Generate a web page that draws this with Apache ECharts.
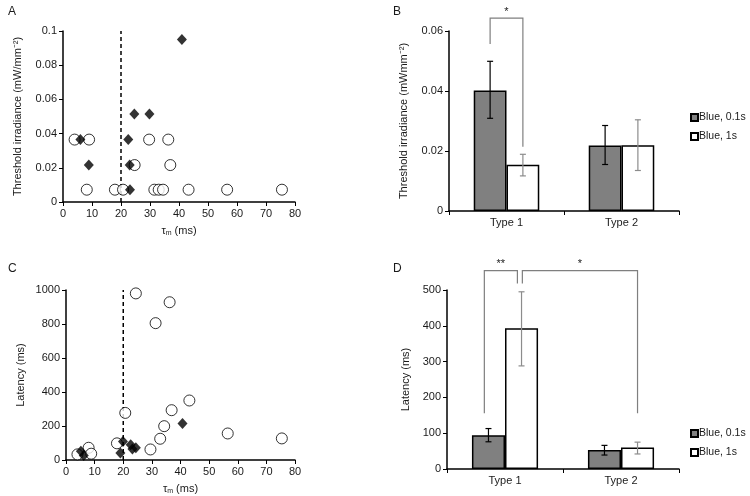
<!DOCTYPE html>
<html><head><meta charset="utf-8">
<script src="https://cdn.jsdelivr.net/npm/echarts@6/dist/echarts.min.js"></script>
<style>html,body{margin:0;padding:0;background:#fff}#c{width:750px;height:496px}</style>
</head><body><div id="c"></div>
<script>
// ---- Panel A: threshold irradiance vs tau_m ----
const aOpen = [[4.0,0.0365],[9.0,0.0365],[29.7,0.0365],[36.3,0.0365],
  [24.7,0.0216],[37.0,0.0216],
  [8.2,0.0072],[17.9,0.0072],[20.7,0.0072],[31.5,0.0072],[33.0,0.0072],[34.5,0.0072],[43.3,0.0072],[56.6,0.0072],[75.5,0.0072]];
const aFilled = [[41.0,0.0951],[24.6,0.0514],[29.8,0.0514],[22.5,0.0365],[6.0,0.0365],[8.9,0.0216],[23.0,0.0216],[23.1,0.0072]];
// ---- Panel C: latency vs tau_m ----
const cOpen = [[24.4,980],[36.2,928],[31.3,805],[20.7,277],[43.1,350],[36.9,293],[34.3,199],[32.9,125],[29.5,62],
  [56.5,156],[75.4,127],[17.8,98],[7.9,72],[8.8,37],[4.0,33]];
const cFilled = [[40.7,215],[19.0,41],[19.9,109],[22.6,90],[23.2,65],[24.4,72],[5.2,51],[6.2,27]];
const tauCut = 20;
// ---- Panels B and D: bars ----
const types = ['Type 1','Type 2'];
const seriesNames = ['Blue, 0.1s','Blue, 1s'];
const bShort = [0.0402, 0.0218];
const bShortErr = [[0.0309,0.0499],[0.0155,0.0285]];
const bLong = [0.0154, 0.0219];
const bLongErr = [[0.0117,0.0189],[0.0135,0.0304]];
const dShort = [94, 53];
const dShortErr = [[76,113],[39,66]];
const dLong = [393, 60];
const dLongErr = [[288,495],[42,75]];
// brackets: [cat, barSide, yEnd] for each end, top value, label
const bBrackets = [{a:[0,-1,0.0557], b:[0,1,0.0214], top:0.0643, label:'*'}];
const dBrackets = [{a:[0,-1.25,156], b:[0,0.75,518], top:554, label:'**'},
                   {a:[0,1.05,518], b:[1,1,156], top:554, label:'*'}];

const FONT = 'Liberation Sans, Arial, sans-serif';
const TXT = '#1a1a1a';
const BARFRAC = 0.285; // each bar's share of band

const chart = echarts.init(document.getElementById('c'), null, {renderer:'canvas'});

function axisCommon(){
  return {
    axisLine:{show:true, onZero:false, lineStyle:{color:'#000', width:1.5}},
    axisTick:{show:true, length:4, lineStyle:{color:'#000', width:1}},
    axisLabel:{color:TXT, fontFamily:FONT, fontSize:11, margin:6, formatter:function(v){return String(v);}},
    splitLine:{show:false},
    nameTextStyle:{color:TXT, fontFamily:FONT, fontSize:11}
  };
}
function tauAxis(gi){
  return Object.assign(axisCommon(), {
    type:'value', gridIndex:gi, min:0, max:80, interval:10,
    name:'{t|τ}{s|m}{t| (ms)}', nameLocation:'middle', nameGap:22,
    nameTextStyle:{color:TXT, fontFamily:FONT, fontSize:11,
      rich:{t:{fontFamily:FONT, fontSize:11, color:TXT}, s:{fontFamily:FONT, fontSize:7, color:TXT, verticalAlign:'bottom', padding:[6,0,0,0]}}}
  });
}
function catAxis(gi){
  const a = axisCommon();
  a.axisLabel = {color:TXT, fontFamily:FONT, fontSize:11, margin:6};
  return Object.assign(a, {
    type:'category', gridIndex:gi, data:types, axisTick:{show:true, length:4, alignWithLabel:false, lineStyle:{color:'#000'}}
  });
}
function valAxis(gi, min, max, interval, name, gap){
  return Object.assign(axisCommon(), {
    type:'value', gridIndex:gi, min:min, max:max, interval:interval,
    name:name, nameLocation:'middle', nameGap:gap
  });
}

function errSeries(xi, yi, errs, side, color){
  return {
    type:'custom', xAxisIndex:xi, yAxisIndex:yi, z:10, silent:true,
    data: errs.map((e,i)=>[i,e[0],e[1]]),
    renderItem:function(params, api){
      const band = api.size([1,0])[0];
      const off = side*BARFRAC*band/2;
      const lo = api.coord([api.value(0), api.value(1)]);
      const hi = api.coord([api.value(0), api.value(2)]);
      const x = lo[0]+off, cap=3;
      const st = {stroke:color, lineWidth:1.2};
      return {type:'group', children:[
        {type:'line', shape:{x1:x,y1:lo[1],x2:x,y2:hi[1]}, style:st},
        {type:'line', shape:{x1:x-cap,y1:lo[1],x2:x+cap,y2:lo[1]}, style:st},
        {type:'line', shape:{x1:x-cap,y1:hi[1],x2:x+cap,y2:hi[1]}, style:st}
      ]};
    }
  };
}
function bracketSeries(xi, yi, brs){
  return {
    type:'custom', xAxisIndex:xi, yAxisIndex:yi, z:10, silent:true, clip:false,
    data: brs.map((b,i)=>[b.a[0], b.a[2], b.b[0], b.b[2], b.top, i]),
    renderItem:function(params, api){
      const b = brs[api.value(5)];
      const band = api.size([1,0])[0];
      const pa = api.coord([b.a[0], b.a[2]]);
      const pb = api.coord([b.b[0], b.b[2]]);
      const xa = pa[0] + b.a[1]*BARFRAC*band/2;
      const xb = pb[0] + b.b[1]*BARFRAC*band/2;
      const yt = api.coord([b.a[0], b.top])[1];
      const st = {stroke:'#7f7f7f', lineWidth:1.2, fill:null};
      return {type:'group', children:[
        {type:'polyline', shape:{points:[[xa,pa[1]],[xa,yt],[xb,yt],[xb,pb[1]]]}, style:st},
        {type:'text', x:(xa+xb)/2, y:yt-1, style:{text:b.label, fill:TXT, font:'11px '+FONT, align:'center', verticalAlign:'bottom'}}
      ]};
    }
  };
}
function barSeries(xi, yi, name, vals, fill){
  return {type:'bar', name:name, xAxisIndex:xi, yAxisIndex:yi, data:vals,
    barGap:'0%', barCategoryGap:'43%',
    itemStyle:{color:fill, borderColor:'#000', borderWidth:1.5}};
}
function scatter(xi, yi, name, data, filled){
  return {type:'scatter', name:name, xAxisIndex:xi, yAxisIndex:yi, data:data,
    symbol: filled ? 'diamond' : 'circle', symbolSize: filled ? [10,11] : 11,
    itemStyle: filled ? {color:'#000'} : {color:'#fff', borderColor:'#000', borderWidth:1},
    z: filled ? 3 : 2};
}
function cutLine(xi, yi, name, ymax){
  return {type:'line', name:name, xAxisIndex:xi, yAxisIndex:yi, data:[[tauCut,0],[tauCut,ymax]],
    symbol:'none', lineStyle:{color:'#000', width:1.5, type:[4,3]}, z:1, silent:true};
}
function legendAt(top){
  return {data:seriesNames, orient:'vertical', left:690, top:top, itemWidth:7, itemHeight:7, itemGap:8,
    selectedMode:false, padding:0, textStyle:{fontFamily:FONT, fontSize:10.5, color:TXT, padding:[0,0,0,-4]}, icon:'rect'};
}

const option = {
  animation:false,
  backgroundColor:'#fff',
  title:[
    {text:'A', left:3, top:1, textStyle:{fontFamily:FONT, fontSize:12, fontWeight:'normal', color:TXT}},
    {text:'B', left:388, top:1, textStyle:{fontFamily:FONT, fontSize:12, fontWeight:'normal', color:TXT}},
    {text:'C', left:3, top:258, textStyle:{fontFamily:FONT, fontSize:12, fontWeight:'normal', color:TXT}},
    {text:'D', left:388, top:258, textStyle:{fontFamily:FONT, fontSize:12, fontWeight:'normal', color:TXT}}
  ],
  grid:[
    {left:63, top:31, width:232, height:171},
    {left:449, top:31, width:230, height:180},
    {left:66, top:290, width:229, height:171},
    {left:447, top:290, width:232, height:179}
  ],
  legend:[ legendAt(112), legendAt(428) ],
  xAxis:[ tauAxis(0), catAxis(1), tauAxis(2), catAxis(3) ],
  yAxis:[
    valAxis(0, 0, 0.1, 0.02, 'Threshold irradiance (mW/mm⁻²)', 40),
    valAxis(1, 0, 0.06, 0.02, 'Threshold irradiance (mWmm⁻²)', 40),
    valAxis(2, 0, 1000, 200, 'Latency (ms)', 40),
    valAxis(3, 0, 500, 100, 'Latency (ms)', 36)
  ],
  series:[
    cutLine(0,0,'cutA',0.1),
    scatter(0,0,'openA',aOpen,false),
    scatter(0,0,'filledA',aFilled,true),
    barSeries(1,1,seriesNames[0],bShort,'#808080'),
    barSeries(1,1,seriesNames[1],bLong,'#ffffff'),
    errSeries(1,1,bShortErr,-1,'#000'),
    errSeries(1,1,bLongErr,1,'#8c8c8c'),
    bracketSeries(1,1,bBrackets),
    cutLine(2,2,'cutC',1000),
    scatter(2,2,'openC',cOpen,false),
    scatter(2,2,'filledC',cFilled,true),
    barSeries(3,3,seriesNames[0],dShort,'#808080'),
    barSeries(3,3,seriesNames[1],dLong,'#ffffff'),
    errSeries(3,3,dShortErr,-1,'#000'),
    errSeries(3,3,dLongErr,1,'#8c8c8c'),
    bracketSeries(3,3,dBrackets)
  ]
};
chart.setOption(option);
</script></body></html>
